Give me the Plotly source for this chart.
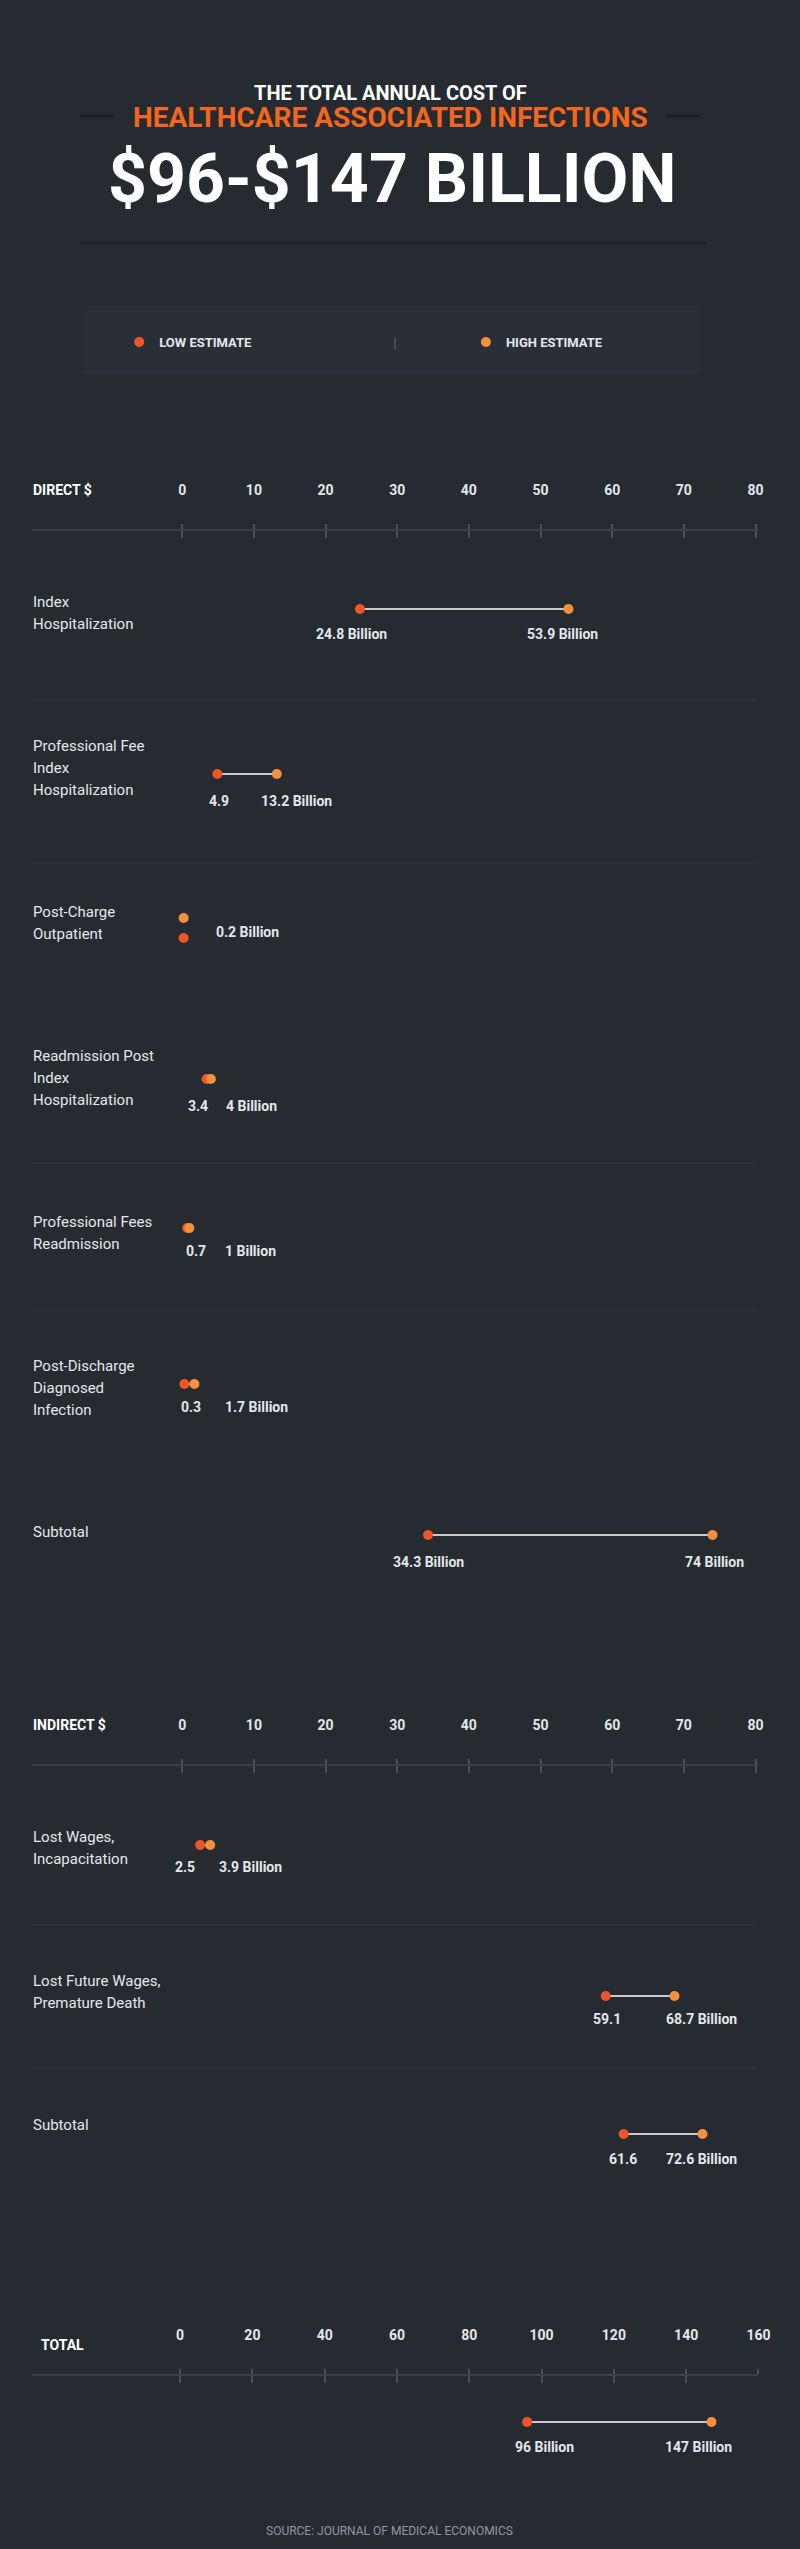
import plotly.graph_objects as go

# ---------------- data ----------------
direct_categories = ["Index<br>Hospitalization",
                     "Professional Fee<br>Index<br>Hospitalization",
                     "Post-Charge<br>Outpatient",
                     "Readmission Post<br>Index<br>Hospitalization",
                     "Professional Fees<br>Readmission",
                     "Post-Discharge<br>Diagnosed<br>Infection",
                     "Subtotal"]
direct_low = [24.8, 4.9, 0.2, 3.4, 0.7, 0.3, 34.3]
direct_high = [53.9, 13.2, 0.2, 4, 1, 1.7, 74]
direct_low_text = ["24.8 Billion", "4.9", "", "3.4", "0.7", "0.3", "34.3 Billion"]
direct_high_text = ["53.9 Billion", "13.2 Billion", "0.2 Billion", "4 Billion",
                    "1 Billion", "1.7 Billion", "74 Billion"]

indirect_categories = ["Lost Wages,<br>Incapacitation",
                       "Lost Future Wages,<br>Premature Death",
                       "Subtotal"]
indirect_low = [2.5, 59.1, 61.6]
indirect_high = [3.9, 68.7, 72.6]
indirect_low_text = ["2.5", "59.1", "61.6"]
indirect_high_text = ["3.9 Billion", "68.7 Billion", "72.6 Billion"]

total_low = [96]
total_high = [147]
total_low_text = ["96 Billion"]
total_high_text = ["147 Billion"]

direct_ticks = [0, 10, 20, 30, 40, 50, 60, 70, 80]
total_ticks = [0, 20, 40, 60, 80, 100, 120, 140, 160]

# ---------------- layout helpers (pixel positions) ----------------
W, H = 800, 2549
BG = "#262b32"
BOX = "#2a2f37"
SEP = "#30353d"
AXIS = "#3b4048"
TICK = "#4a5059"
TEXT = "#e4e6ea"
WHITE = "#ffffff"
RED = "#ee5527"
ORANGE = "#f6903f"
TITLE_ORANGE = "#f4661b"
COND = "Roboto, sans-serif"
REG = "Roboto, Lato, sans-serif"

def py(px):
    return 1 - px / H

direct_rows = dict(text_y=[602, 746, 912, 1056, 1222, 1366, 1532],
                   low_y=[609, 774, 938, 1079, 1228, 1384, 1535],
                   high_y=[609, 774, 918, 1079, 1228, 1384, 1535],
                   label_y=[634, 801, 932, 1106, 1251, 1407, 1562],
                   low_shift=[-8, 2, 0, -9, 9, 7, 0],
                   high_shift=[-6, 20, 64, 41, 61, 62, 2])
indirect_rows = dict(text_y=[1837, 1981, 2125],
                     low_y=[1845, 1996, 2134],
                     high_y=[1845, 1996, 2134],
                     label_y=[1867, 2019, 2159],
                     low_shift=[-15, 1, -1],
                     high_shift=[40, 27, -1])
total_rows = dict(low_y=[2422], high_y=[2422], label_y=[2447],
                  low_shift=[17], high_shift=[-13])

fig = go.Figure()
annotations = []
shapes = []

def add_rows(cats, lows, highs, low_txt, high_txt, rows, xaxis):
    for i in range(len(lows)):
        ly, hy = rows["low_y"][i], rows["high_y"][i]
        mode = "lines+markers" if ly == hy else "markers"
        fig.add_trace(go.Scatter(
            x=[lows[i], highs[i]], y=[ly, hy], xaxis=xaxis, yaxis="y",
            mode=mode, line=dict(color=WHITE, width=1.6),
            marker=dict(color=[RED, ORANGE], size=10, line=dict(width=0)),
            showlegend=False, hoverinfo="skip"))
        for val, txt, sh in [(lows[i], low_txt[i], rows["low_shift"][i]),
                             (highs[i], high_txt[i], rows["high_shift"][i])]:
            if txt:
                annotations.append(dict(x=val, y=rows["label_y"][i], xref=xaxis, yref="y",
                                        text=txt, showarrow=False, xanchor="center",
                                        yanchor="middle", xshift=sh,
                                        font=dict(family=COND, size=14, color=TEXT, weight="bold")))
        if cats is not None:
            for j, line in enumerate(cats[i].split("<br>")):
                annotations.append(dict(x=31 / W, y=rows["text_y"][i] + 22 * j, xref="paper", yref="y",
                                        text=line, showarrow=False, xanchor="left", yanchor="middle",
                                        font=dict(family=REG, size=15, color=TEXT)))

add_rows(direct_categories, direct_low, direct_high, direct_low_text, direct_high_text, direct_rows, "x")
add_rows(indirect_categories, indirect_low, indirect_high, indirect_low_text, indirect_high_text, indirect_rows, "x")
add_rows(None, total_low, total_high, total_low_text, total_high_text, total_rows, "x6")

# legend-only traces (two separate legends to place the entries apart)
fig.add_trace(go.Scatter(x=[None], y=[None], mode="markers", name="LOW ESTIMATE",
                         marker=dict(color=RED, size=10), showlegend=True, legend="legend"))
fig.add_trace(go.Scatter(x=[None], y=[None], mode="markers", name="HIGH ESTIMATE",
                         marker=dict(color=ORANGE, size=10), showlegend=True, legend="legend2"))

# ---------------- titles ----------------
annotations += [
    dict(x=0.495, y=93, xref="paper", yref="y", text="THE TOTAL ANNUAL COST OF", showarrow=False,
         font=dict(family=REG, size=20, color=WHITE, weight="bold"), yanchor="middle"),
    dict(x=0.495, y=117, xref="paper", yref="y", text="HEALTHCARE ASSOCIATED INFECTIONS", showarrow=False,
         font=dict(family=REG, size=28, color=TITLE_ORANGE, weight="bold"), yanchor="middle"),
    dict(x=0.497, y=179, xref="paper", yref="y", text="$96-$147 BILLION", showarrow=False,
         font=dict(family=COND, size=68, color=WHITE, weight="bold"), yanchor="middle"),
    dict(x=31 / W, y=490, xref="paper", yref="y", text="DIRECT $", showarrow=False, xanchor="left",
         font=dict(family=REG, size=14, color=WHITE, weight="bold"), yanchor="middle"),
    dict(x=31 / W, y=1725, xref="paper", yref="y", text="INDIRECT $", showarrow=False, xanchor="left",
         font=dict(family=REG, size=14, color=WHITE, weight="bold"), yanchor="middle"),
    dict(x=40 / W, y=2345, xref="paper", yref="y", text="TOTAL", showarrow=False, xanchor="left",
         font=dict(family=REG, size=14, color=WHITE, weight="bold"), yanchor="middle"),
    dict(x=0.494, y=2531, xref="paper", yref="y", text="SOURCE: JOURNAL OF MEDICAL ECONOMICS",
         showarrow=False, font=dict(family=COND, size=12, color="#9196a0"), yanchor="middle"),
]

# ---------------- shapes ----------------
def hline(y, x0, x1, color, width):
    shapes.append(dict(type="line", xref="paper", yref="y", x0=x0 / W, x1=x1 / W, y0=y, y1=y,
                       line=dict(color=color, width=width), layer="below"))

hline(116, 81, 115, "#1b1f24", 3)
hline(116, 676, 711, "#1b1f24", 3)
hline(243, 81, 717, "#1c2025", 3)
shapes.append(dict(type="rect", xref="paper", yref="y", x0=84 / W, x1=711 / W, y0=306, y1=375,
                   fillcolor=BOX, line=dict(width=0), layer="below"))
shapes.append(dict(type="line", xref="paper", yref="y", x0=401 / W, x1=401 / W, y0=338, y1=349,
                   line=dict(color="#50555e", width=1.5), layer="below"))
for y in [700, 863, 1000, 1163, 1310, 1472, 1925, 2068, 2192]:
    hline(y, 32, 770, SEP, 1.2)

# ---------------- axes ----------------
x_range = [-21.03, 80.41]
x_dom = [32 / W, 770 / W]
t_range = [-41.1, 160.0]
t_dom = [31 / W, 770 / W]

def tick_axis(rng, dom, ticks, ypx, labels):
    d = dict(range=rng, domain=dom, overlaying="x", anchor="free", position=py(ypx),
             side="top", tickmode="array", tickvals=ticks, showgrid=False, zeroline=False,
             fixedrange=True, tickwidth=2, tickcolor=TICK, showline=labels,
             linecolor=AXIS, linewidth=1.5)
    if labels:
        d.update(ticks="outside", ticklen=5, showticklabels=True,
                 ticktext=[str(t) for t in ticks],
                 tickfont=dict(family=COND, size=14, color=TEXT, weight="bold"),
                 ticklabelstandoff=24)
    else:
        d.update(ticks="inside", ticklen=7, showticklabels=False)
    return d

legend_common = dict(orientation="h", yanchor="middle", xanchor="left", bgcolor="rgba(0,0,0,0)",
                     font=dict(family=REG, size=13, color=TEXT, weight="bold"),
                     itemclick=False, itemdoubleclick=False, y=py(342))

fig.update_layout(
    width=W, height=H, margin=dict(l=0, r=0, t=0, b=0),
    paper_bgcolor=BG, plot_bgcolor="rgba(0,0,0,0)",
    xaxis=dict(range=x_range, domain=x_dom, visible=False, fixedrange=True),
    yaxis=dict(range=[H, 0], domain=[0, 1], visible=False, fixedrange=True),
    xaxis2=tick_axis(x_range, x_dom, direct_ticks, 530, True),
    xaxis3=tick_axis(x_range, x_dom, direct_ticks, 530, False),
    xaxis4=tick_axis(x_range, x_dom, direct_ticks, 1765, True),
    xaxis5=tick_axis(x_range, x_dom, direct_ticks, 1765, False),
    xaxis6=tick_axis(t_range, t_dom, total_ticks, 2375, True),
    xaxis7=tick_axis(t_range, t_dom, total_ticks, 2375, False),
    annotations=annotations, shapes=shapes,
    showlegend=True,
    legend=dict(x=121 / W, **legend_common),
    legend2=dict(x=473 / W, **legend_common),
)

for ax in ["x2", "x3", "x4", "x5", "x7"]:
    fig.add_trace(go.Scatter(x=[None], y=[None], xaxis=ax, yaxis="y", showlegend=False,
                             hoverinfo="skip"))

fig.write_html("out.html", config={"displayModeBar": False},
               post_script="document.body.style.margin='0';document.body.style.overflow='hidden';")
